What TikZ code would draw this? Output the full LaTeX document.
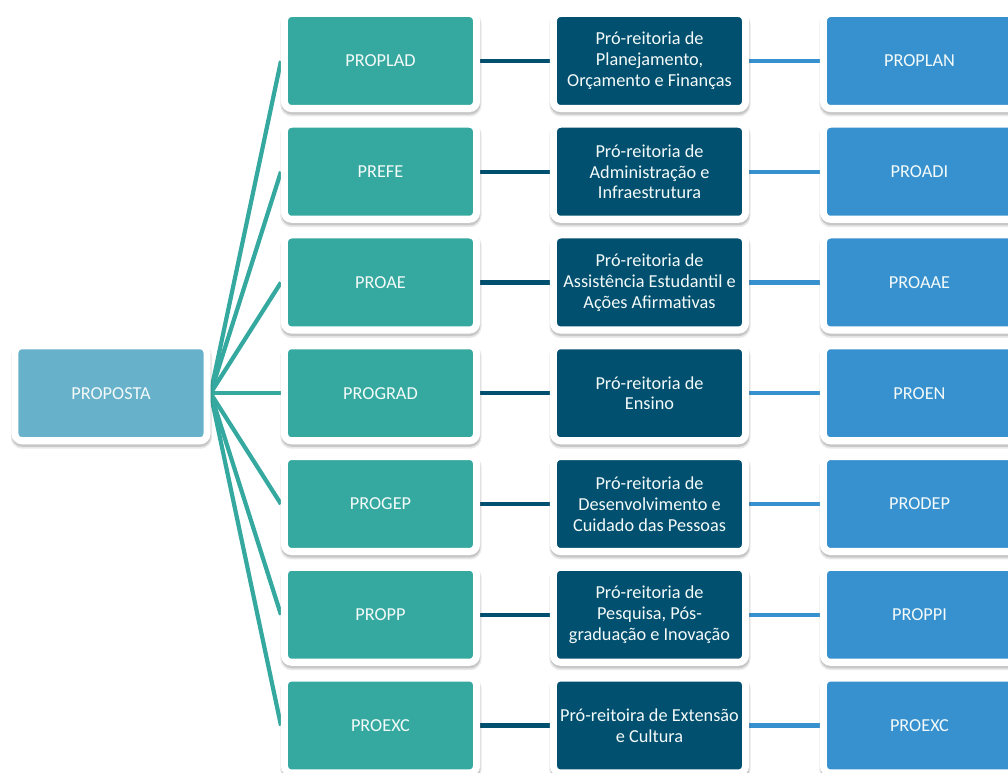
\documentclass[tikz,border=0pt]{standalone}
\usepackage{fontspec}
\setmainfont{Carlito}
\usetikzlibrary{shapes, positioning, backgrounds}
\definecolor{propcol}{HTML}{67B1CB}
\definecolor{tealcol}{HTML}{35A99F}
\definecolor{darkcol}{HTML}{02506F}
\definecolor{lightcol}{HTML}{3891CF}
\tikzstyle{box} = [rectangle, rounded corners=5pt, draw=white, line width=5pt, inner sep=2pt, minimum width=4.8cm, minimum height=2.375cm, text=white!94!tealcol, align=center, font=\fontsize{13}{14.8}\selectfont,
	preaction={draw=black, opacity=0.09, line width=6.5pt, transform canvas={xshift=0.3pt, yshift=-2.4pt}},
	preaction={draw=black, opacity=0.14, line width=5pt, transform canvas={xshift=0.3pt, yshift=-1.8pt}}]
\tikzstyle{pnode} = [box, fill=propcol]
\tikzstyle{tnode} = [box, fill=tealcol]
\tikzstyle{dnode} = [box, fill=darkcol]
\tikzstyle{lnode} = [box, fill=lightcol]
\tikzstyle{fan} = [draw, tealcol, line width=3pt]
\tikzstyle{dline} = [draw, darkcol, line width=3pt]
\tikzstyle{lline} = [draw, lightcol, line width=3pt]

\begin{document}
\begin{tikzpicture}[x=0.025cm, y=-0.025cm]
	\clip (0,0) rectangle (1008,773);

	\node [pnode] (prop) at (111, 393.25) {PROPOSTA};

	\node [tnode] (t1) at (380.5, 61) {PROPLAD};
	\node [tnode] (t2) at (380.5, 171.75) {PREFE};
	\node [tnode] (t3) at (380.5, 282.5) {PROAE};
	\node [tnode] (t4) at (380.5, 393.25) {PROGRAD};
	\node [tnode] (t5) at (380.5, 504) {PROGEP};
	\node [tnode] (t6) at (380.5, 614.75) {PROPP};
	\node [tnode] (t7) at (380.5, 725.5) {PROEXC};

	\node [dnode] (d1) at (649.5, 61) {Pró-reitoria de\\Planejamento,\\Orçamento e Finanças};
	\node [dnode] (d2) at (649.5, 171.75) {Pró-reitoria de\\Administração e\\Infraestrutura};
	\node [dnode] (d3) at (649.5, 282.5) {Pró-reitoria de\\Assistência Estudantil e\\Ações Afirmativas};
	\node [dnode] (d4) at (649.5, 393.25) {Pró-reitoria de\\Ensino};
	\node [dnode] (d5) at (649.5, 504) {Pró-reitoria de\\Desenvolvimento e\\Cuidado das Pessoas};
	\node [dnode] (d6) at (649.5, 614.75) {Pró-reitoria de\\Pesquisa, Pós-\\graduação e Inovação};
	\node [dnode] (d7) at (649.5, 725.5) {Pró-reitoira de Extensão\\e Cultura};

	\node [lnode] (l1) at (919.5, 61) {PROPLAN};
	\node [lnode] (l2) at (919.5, 171.75) {PROADI};
	\node [lnode] (l3) at (919.5, 282.5) {PROAAE};
	\node [lnode] (l4) at (919.5, 393.25) {PROEN};
	\node [lnode] (l5) at (919.5, 504) {PRODEP};
	\node [lnode] (l6) at (919.5, 614.75) {PROPPI};
	\node [lnode] (l7) at (919.5, 725.5) {PROEXC};

	\begin{scope}[on background layer]
		\path [fan] (prop.east) -- (t1.west);
		\path [fan] (prop.east) -- (t2.west);
		\path [fan] (prop.east) -- (t3.west);
		\path [fan] (prop.east) -- (t4.west);
		\path [fan] (prop.east) -- (t5.west);
		\path [fan] (prop.east) -- (t6.west);
		\path [fan] (prop.east) -- (t7.west);

		\path [dline] (t1) -- (d1);
		\path [dline] (t2) -- (d2);
		\path [dline] (t3) -- (d3);
		\path [dline] (t4) -- (d4);
		\path [dline] (t5) -- (d5);
		\path [dline] (t6) -- (d6);
		\path [dline] (t7) -- (d7);

		\path [lline] (d1) -- (l1);
		\path [lline] (d2) -- (l2);
		\path [lline] (d3) -- (l3);
		\path [lline] (d4) -- (l4);
		\path [lline] (d5) -- (l5);
		\path [lline] (d6) -- (l6);
		\path [lline] (d7) -- (l7);
	\end{scope}
\end{tikzpicture}
\end{document}
